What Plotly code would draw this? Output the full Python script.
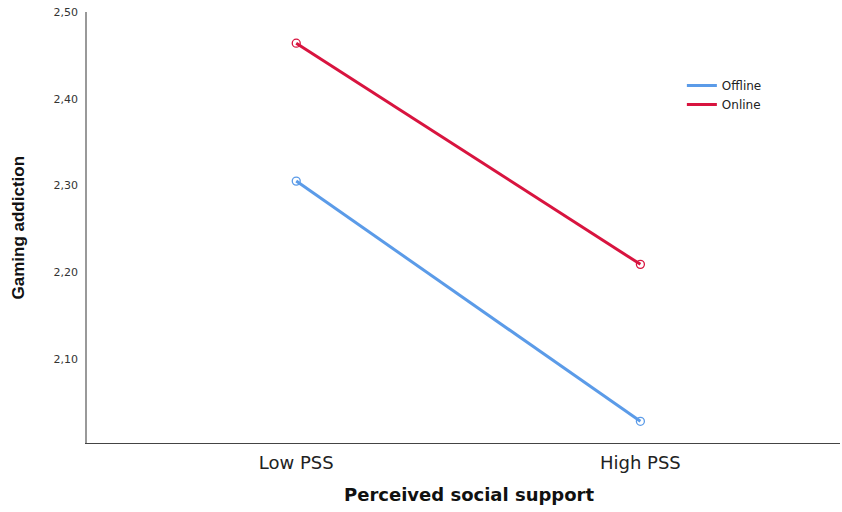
import plotly.graph_objects as go

categories = ["Low PSS", "High PSS"]
offline = [2.305, 2.028]
online = [2.464, 2.209]
y_ticks = [2.10, 2.20, 2.30, 2.40, 2.50]

BLUE = "#5B9BE8"
RED = "#D8143F"

fig = go.Figure()
for name, vals, col in [("Offline", offline, BLUE), ("Online", online, RED)]:
    fig.add_trace(go.Scatter(
        x=categories, y=vals, name=name, mode="lines+markers", showlegend=False,
        line=dict(color=col, width=3),
        marker=dict(symbol="circle-open", size=8, color=col, line=dict(width=1.3)),
    ))
for name, col in [("Offline", BLUE), ("Online", RED)]:
    fig.add_trace(go.Scatter(
        x=[None], y=[None], name=name, mode="lines",
        line=dict(color=col, width=3),
    ))

fig.update_layout(
    width=842, height=512,
    margin=dict(l=87, r=2, t=12, b=69),
    paper_bgcolor="white", plot_bgcolor="white",
    separators=",.",
    font=dict(family="DejaVu Sans, Verdana, sans-serif", color="#222"),
    legend=dict(
        x=0.79, y=0.863, xanchor="left", yanchor="top",
        font=dict(size=12, color="#222", family="DejaVu Sans, sans-serif"),
        bgcolor="rgba(0,0,0,0)", tracegroupgap=0, itemwidth=30,
    ),
    annotations=[
        dict(text="<b>Gaming addiction</b>", xref="paper", yref="paper",
             x=(18 - 87) / 753, y=0.5, textangle=-90, showarrow=False,
             xanchor="center", yanchor="middle",
             font=dict(size=17, color="#111", family="Liberation Sans, Arial, sans-serif")),
        dict(text="<b>Perceived social support</b>", xref="paper", yref="paper",
             x=(469 - 87) / 753, y=-(494 - 443) / 431, showarrow=False,
             xanchor="center", yanchor="middle",
             font=dict(size=18, color="#111", family="DejaVu Sans, sans-serif")),
    ],
)
fig.update_xaxes(
    type="category", range=[-0.608, 1.58], automargin=False,
    showline=True, linecolor="#444", linewidth=1,
    showgrid=False, zeroline=False, ticks="",
    tickfont=dict(size=18, color="#222", family="DejaVu Sans, sans-serif"),
    ticklabelstandoff=3,
)
fig.update_yaxes(
    range=[2.003, 2.5], tickvals=y_ticks, tickformat=".2f", automargin=False,
    showline=True, linecolor="#999", linewidth=1.5,
    showgrid=False, zeroline=False, ticks="",
    tickfont=dict(size=11, color="#333", family="DejaVu Sans, sans-serif"),
    ticklabelstandoff=5,
)

fig.write_html("out.html", config={"displayModeBar": False},
               post_script="document.body.style.margin='0';")
